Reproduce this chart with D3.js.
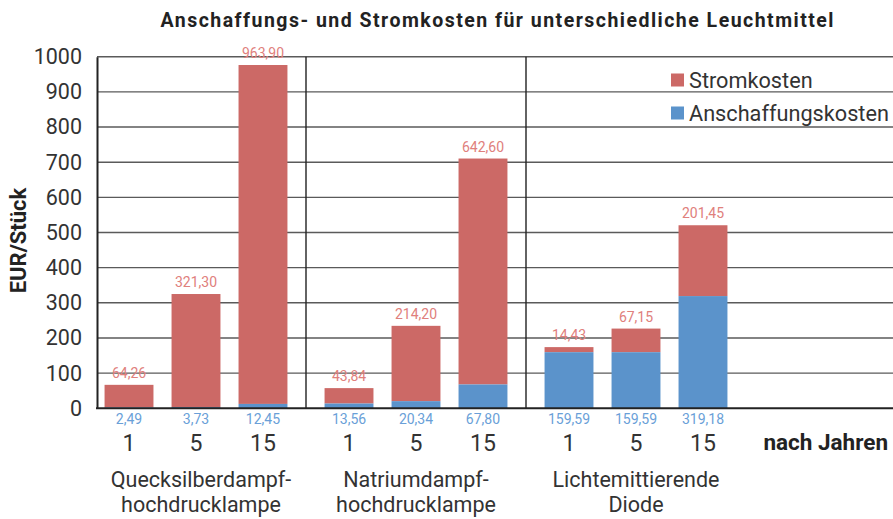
<!DOCTYPE html>
<html><head><meta charset="utf-8">
<script src="https://cdn.jsdelivr.net/npm/d3@7"></script>
<style>
body{margin:0;background:#fff;}
text{font-family:"Roboto","DejaVu Sans",sans-serif;}
</style></head>
<body><svg id="chart" width="893" height="519"></svg>
<script>
const groups = ["Quecksilberdampf-\nhochdrucklampe", "Natriumdampf-\nhochdrucklampe", "Lichtemittierende\nDiode"];
const years = ["1", "5", "15"];
const anschaffung = [[2.49, 3.73, 12.45], [13.56, 20.34, 67.80], [159.59, 159.59, 319.18]];
const strom = [[64.26, 321.30, 963.90], [43.84, 214.20, 642.60], [14.43, 67.15, 201.45]];
const yTicks = [0, 100, 200, 300, 400, 500, 600, 700, 800, 900, 1000];
const seriesNames = ["Stromkosten", "Anschaffungskosten"];
const colors = {strom: "#cc6966", ansch: "#5b93cb", stromLbl: "#e0807c", anschLbl: "#6a9fd8"};
const fmt = v => v.toFixed(2).replace(".", ",");

const svg = d3.select("#chart");
const plotL = 97, plotR = 893, y0 = 408.3, y1 = 56.7;
const y = d3.scaleLinear().domain([0, 1000]).range([y0, y1]);
const x0 = d3.scaleBand().domain(groups).range([86, 746]);
const x1 = d3.scaleBand().domain(years).range([0, x0.bandwidth()]).paddingInner(0.27).paddingOuter(0.277);

// gridlines
svg.append("g").selectAll("line").data(yTicks.filter(t => t > 0)).join("line")
  .attr("x1", plotL).attr("x2", plotR).attr("y1", d => y(d)).attr("y2", d => y(d))
  .attr("stroke", "#5a5a5a").attr("stroke-width", 1.4);

// group separators
svg.append("g").selectAll("line").data(groups.slice(1)).join("line")
  .attr("x1", d => x0(d)).attr("x2", d => x0(d)).attr("y1", y(1000)).attr("y2", y0)
  .attr("stroke", "#222").attr("stroke-width", 1.4);

// y axis
const yAxis = svg.append("g").attr("transform", `translate(${plotL},0)`)
  .call(d3.axisLeft(y).tickValues(yTicks).tickSize(0).tickPadding(15).tickFormat(d3.format("d")));
yAxis.select(".domain").attr("stroke", "#222").attr("stroke-width", 2);
yAxis.selectAll("text").attr("font-size", 21.5).attr("fill", "#333")
  .attr("font-family", "Roboto, sans-serif");

// bars
groups.forEach((g, gi) => {
  const gg = svg.append("g").attr("transform", `translate(${x0(g)},0)`);
  years.forEach((yr, yi) => {
    const a = anschaffung[gi][yi], s = strom[gi][yi];
    const bx = x1(yr), bw = x1.bandwidth();
    gg.append("rect").attr("x", bx).attr("width", bw)
      .attr("y", y(a + s)).attr("height", y(a) - y(a + s)).attr("fill", colors.strom);
    gg.append("rect").attr("x", bx).attr("width", bw)
      .attr("y", y(a)).attr("height", y(0) - y(a)).attr("fill", colors.ansch);
    gg.append("text").attr("x", bx + bw / 2).attr("y", y(a + s) - 7)
      .attr("text-anchor", "middle").attr("font-size", 14).attr("fill", colors.stromLbl).text(fmt(s));
    gg.append("text").attr("x", bx + bw / 2).attr("y", y0 + 16)
      .attr("text-anchor", "middle").attr("font-size", 14).attr("fill", colors.anschLbl).text(fmt(a));
    gg.append("text").attr("x", bx + bw / 2).attr("y", 451)
      .attr("text-anchor", "middle").attr("font-size", 23).attr("fill", "#333").text(yr);
  });
  const lines = g.split("\n");
  const t = svg.append("text").attr("x", x0(g) + x0.bandwidth() / 2 + (gi === 0 ? 5 : 0)).attr("y", 487)
    .attr("text-anchor", "middle").attr("font-size", 21.5).attr("fill", "#333");
  lines.forEach((l, li) => t.append("tspan").attr("x", t.attr("x")).attr("dy", li === 0 ? 0 : 25).text(l));
});

// baseline
svg.append("line").attr("x1", plotL - 1).attr("x2", plotR).attr("y1", y0).attr("y2", y0)
  .attr("stroke", "#222").attr("stroke-width", 2);

// title
svg.append("text").attr("x", 497).attr("y", 27).attr("text-anchor", "middle")
  .attr("font-size", 19.5).attr("font-weight", "bold").attr("fill", "#222")
  .attr("textLength", 673).attr("lengthAdjust", "spacing")
  .text("Anschaffungs- und Stromkosten für unterschiedliche Leuchtmittel");

// y label
svg.append("text").attr("transform", `translate(26,${(y0 + y1) / 2 + 8}) rotate(-90)`)
  .attr("text-anchor", "middle").attr("font-size", 22).attr("font-weight", "bold").attr("fill", "#222")
  .text("EUR/Stück");

// nach Jahren
svg.append("text").attr("x", 888).attr("y", 450).attr("text-anchor", "end")
  .attr("font-size", 22.5).attr("font-weight", "bold").attr("fill", "#222").text("nach Jahren");

// legend
const leg = svg.append("g");
[[seriesNames[0], colors.strom, 80], [seriesNames[1], colors.ansch, 113]].forEach(([n, c, cy]) => {
  leg.append("rect").attr("x", 671).attr("y", cy - 6.5).attr("width", 13).attr("height", 13).attr("fill", c);
  leg.append("text").attr("x", 689).attr("y", cy + 7.5).attr("font-size", 21.7).attr("fill", "#333").text(n);
});
</script></body></html>
